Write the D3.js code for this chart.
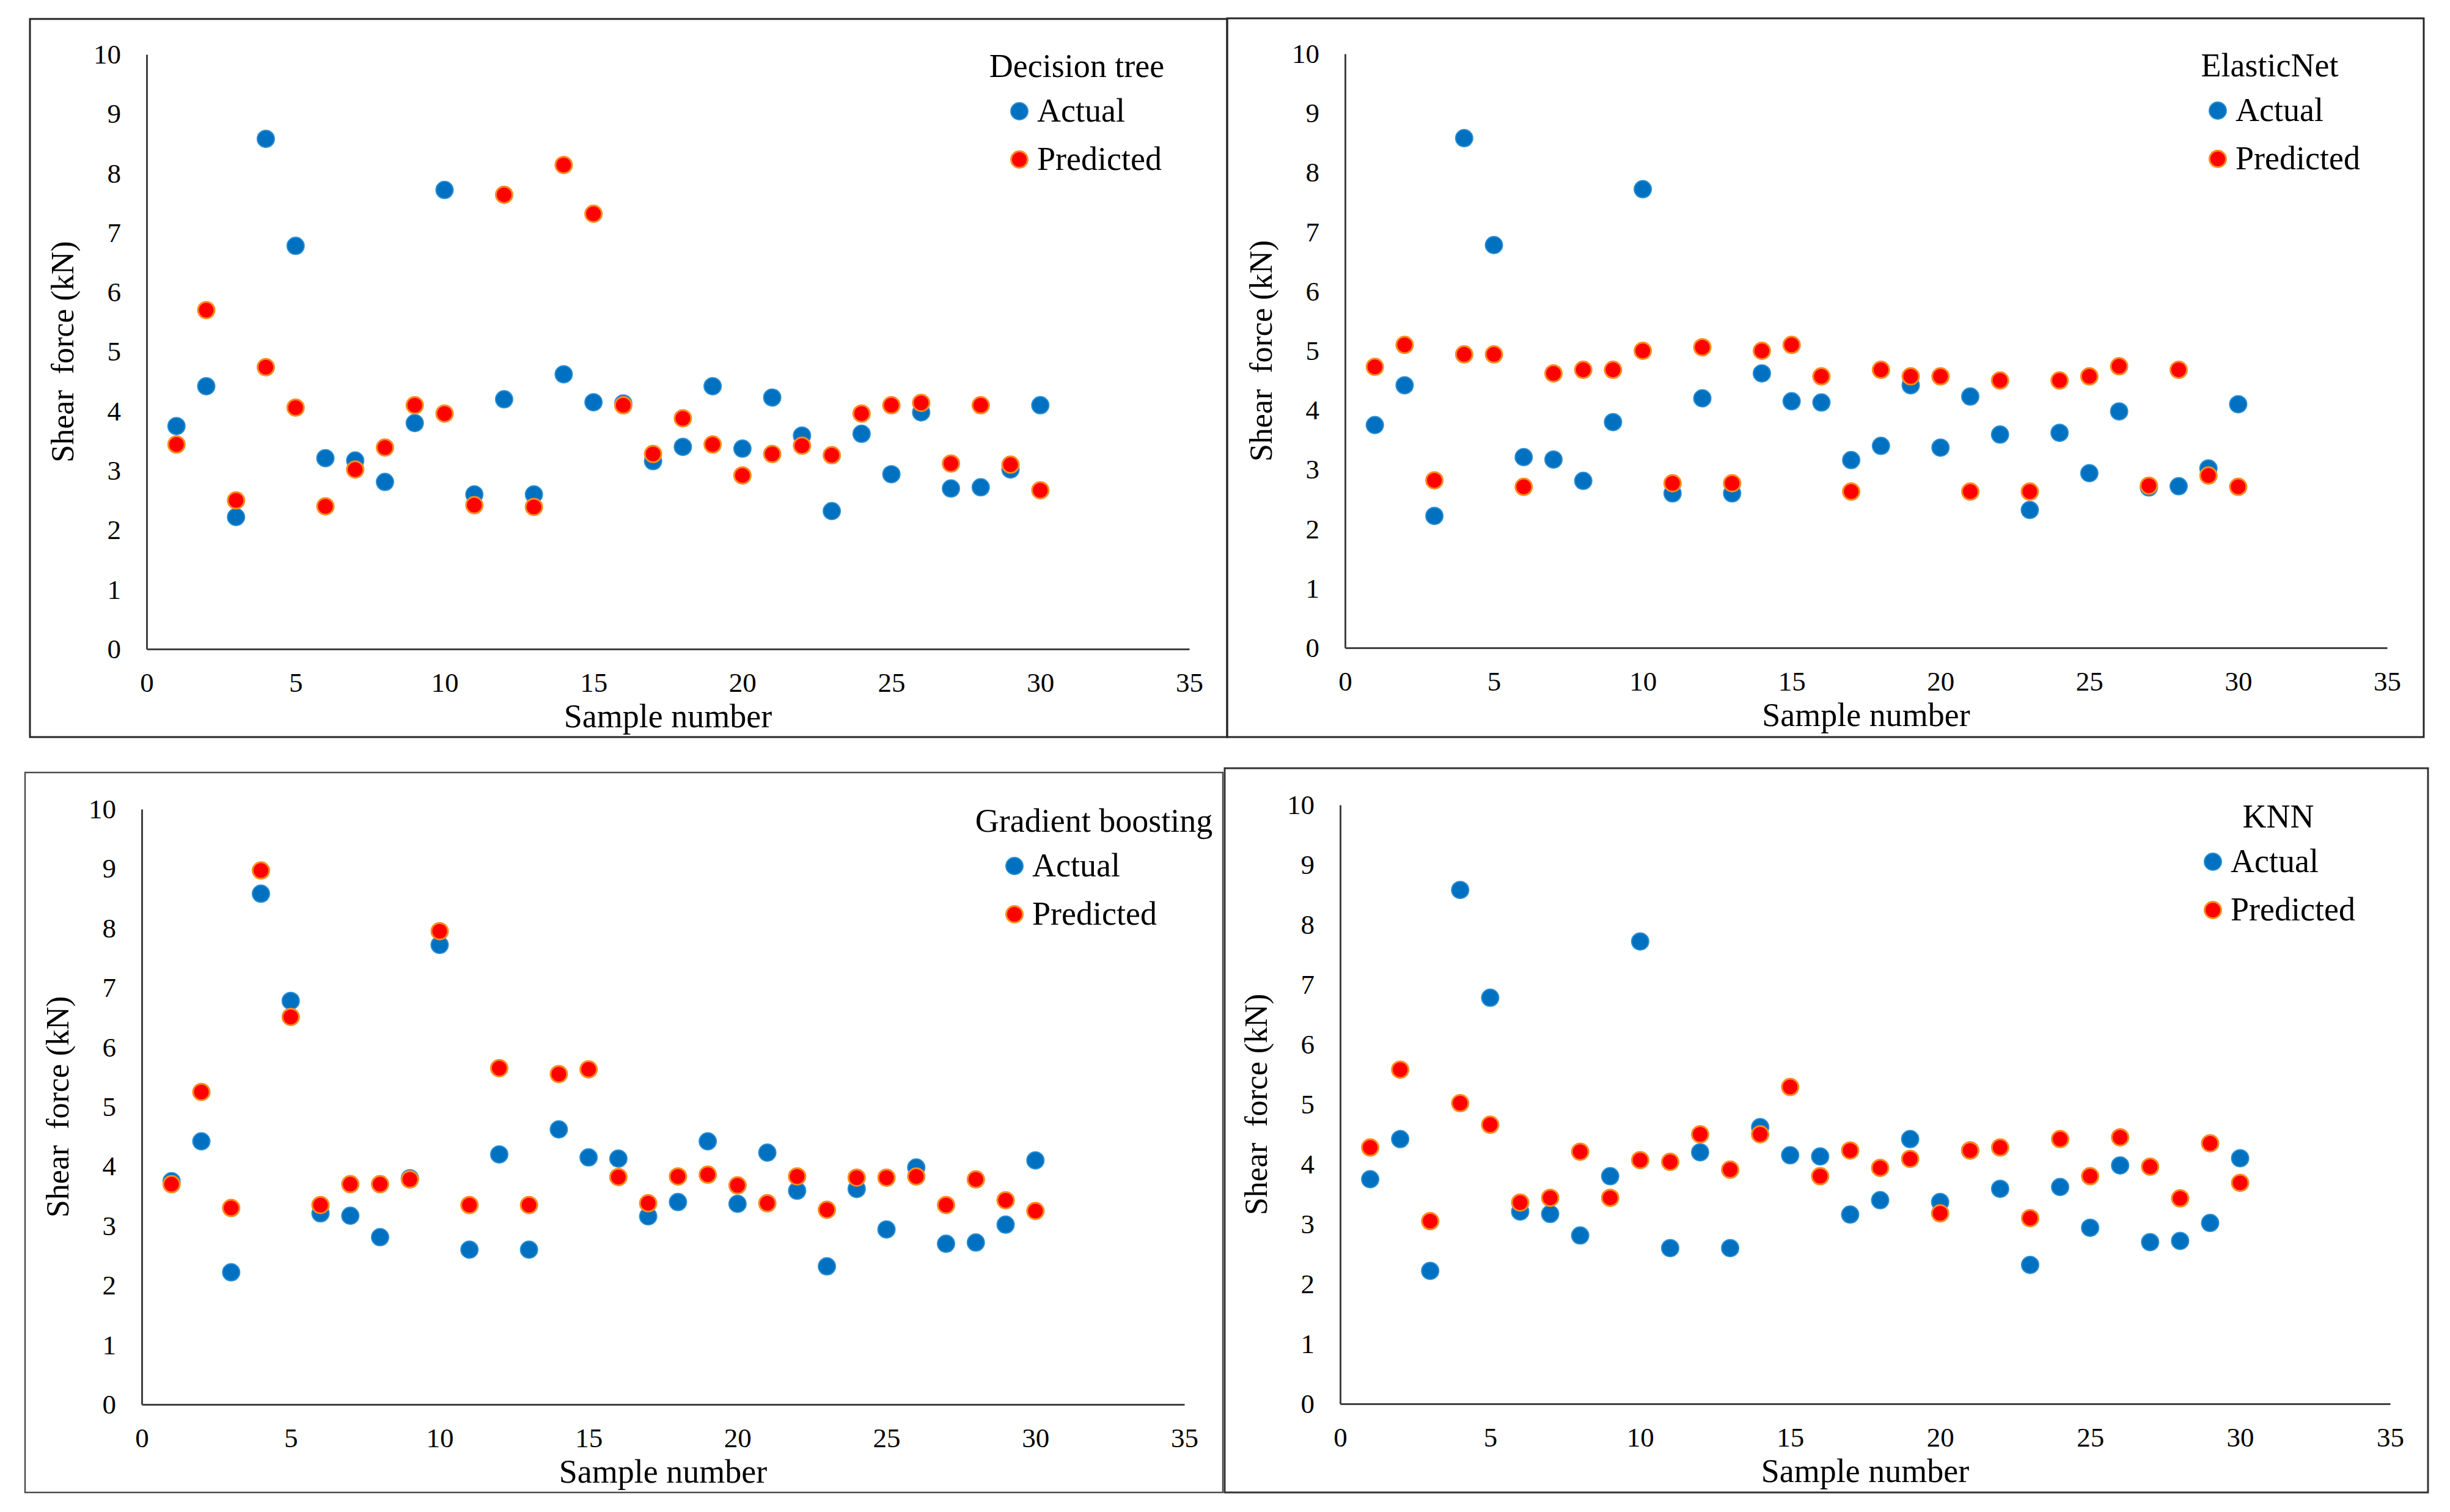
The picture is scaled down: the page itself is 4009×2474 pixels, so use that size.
<!DOCTYPE html>
<html>
<head>
<meta charset="utf-8">
<script src="https://cdn.jsdelivr.net/npm/d3@7"></script>
<style>
  html, body { margin: 0; padding: 0; background: #fff; }
  svg text { font-family: "Liberation Serif", "DejaVu Serif", serif; fill: #000; }
</style>
</head>
<body>
<svg id="chart" width="4009" height="2474" font-family="Liberation Serif, serif"></svg>
<script>
var FONT = '"Liberation Serif", "DejaVu Serif", serif';

// sample numbers 1..30
var sampleNo = [1, 2, 3, 4, 5, 6, 7, 8, 9, 10, 11, 12, 13, 14, 15,
    16, 17, 18, 19, 20, 21, 22, 23, 24, 25, 26, 27, 28, 29, 30];

// measured shear force, same in all four panels
var actual = [3.75, 4.42, 2.22, 8.58, 6.78, 3.21, 3.17, 2.81, 3.80, 7.72,
    2.60, 4.20, 2.60, 4.62, 4.15, 4.13, 3.16, 3.40, 4.42, 3.37,
    4.23, 3.59, 2.32, 3.62, 2.94, 3.98, 2.70, 2.72, 3.02, 4.10];

// predicted values
var dtPred = [3.44, 5.70, 2.50, 4.74, 4.06, 2.40, 3.02, 3.39, 4.10, 3.96,
    2.42, 7.64, 2.39, 8.14, 7.32, 4.10, 3.28, 3.88, 3.44, 2.92,
    3.28, 3.42, 3.26, 3.96, 4.10, 4.14, 3.12, 4.10, 3.10, 2.67];
var enPred = [4.73, 5.10, 2.82, 4.94, 4.94, 2.71, 4.62, 4.68, 4.68, 5.00,
    2.77, 5.06, 2.77, 5.00, 5.10, 4.57, 2.63, 4.68, 4.57, 4.57,
    2.63, 4.50, 2.63, 4.50, 4.57, 4.74, 2.73, 4.68, 2.90, 2.71];
var gbPred = [3.70, 5.25, 3.30, 8.97, 6.51, 3.35, 3.70, 3.70, 3.78, 7.95,
    3.35, 5.65, 3.35, 5.55, 5.63, 3.82, 3.38, 3.83, 3.86, 3.68,
    3.38, 3.83, 3.27, 3.81, 3.81, 3.83, 3.35, 3.78, 3.43, 3.25];
var knnPred = [4.28, 5.58, 3.05, 5.02, 4.66, 3.36, 3.44, 4.21, 3.44, 4.07,
    4.04, 4.50, 3.91, 4.50, 5.29, 3.80, 4.23, 3.94, 4.09, 3.18,
    4.23, 4.28, 3.10, 4.42, 3.80, 4.45, 3.96, 3.43, 4.35, 3.69];

var modelNames = ['Decision tree', 'ElasticNet', 'Gradient boosting', 'KNN'];
var predictions = [dtPred, enPred, gbPred, knnPred];
var seriesNames = ['Actual', 'Predicted'];

var xTicks = [0, 5, 10, 15, 20, 25, 30, 35];
var yTicks = [0, 1, 2, 3, 4, 5, 6, 7, 8, 9, 10];

// layout of the four panels (frame, plot area, legend title centre)
var layout = [
    {frame: [49, 31, 2008, 1206], plot: [240, 89, 1946, 1062], titleX: 1762, stroke: '#262626', sw: 3},
    {frame: [2008, 30, 3966, 1206], plot: [2201, 88, 3906, 1060], titleX: 3714, stroke: '#262626', sw: 3},
    {frame: [41, 1264, 2001, 2442], plot: [232, 1324, 1938, 2298], titleX: 1790, stroke: '#4d4d4d', sw: 2.5},
    {frame: [2004, 1257, 3973, 2442], plot: [2193, 1317, 3911, 2297], titleX: 3728, stroke: '#333333', sw: 3}
];

var marker = {
    Actual: {fill: '#0070c0', stroke: '#2b8fd3', r: 14, sw: 2},
    Predicted: {fill: '#ff0000', stroke: '#ff8a1e', r: 13.5, sw: 3}
};

var svg = d3.select('#chart');
svg.append('rect').attr('width', 4009).attr('height', 2474).attr('fill', '#fff');

function label(sel, size) {
    return sel.attr('font-family', FONT).style('font-family', FONT)
        .style('font-size', size + 'px').attr('fill', '#000');
}

modelNames.forEach(function (name, i) {
    var L = layout[i];
    var g = svg.append('g');

    //panel frame
    g.append('rect')
        .attr('x', L.frame[0]).attr('y', L.frame[1])
        .attr('width', L.frame[2] - L.frame[0])
        .attr('height', L.frame[3] - L.frame[1])
        .attr('fill', 'none')
        .attr('stroke', L.stroke)
        .attr('stroke-width', L.sw);

    var x = d3.scaleLinear().domain([0, 35]).range([L.plot[0], L.plot[2]]);
    var y = d3.scaleLinear().domain([0, 10]).range([L.plot[3], L.plot[1]]);

    //axes: plain lines, no tick marks
    var xAxis = g.append('g')
        .attr('transform', 'translate(0,' + L.plot[3] + ')')
        .call(d3.axisBottom(x).tickValues(xTicks).tickSize(0).tickPadding(38));
    var yAxis = g.append('g')
        .attr('transform', 'translate(' + L.plot[0] + ',0)')
        .call(d3.axisLeft(y).tickValues(yTicks).tickSize(0).tickPadding(42));
    [xAxis, yAxis].forEach(function (a) {
        a.attr('font-family', FONT).attr('font-size', 45);
        a.select('.domain').attr('stroke', '#404040').attr('stroke-width', 3);
        label(a.selectAll('text'), 45);
    });

    //axis titles
    label(g.append('text'), 54)
        .attr('x', (L.plot[0] + L.plot[2]) / 2)
        .attr('y', L.plot[3] + 128)
        .attr('text-anchor', 'middle')
        .text('Sample number');
    label(g.append('text'), 52)
        .attr('transform', 'translate(' + (L.plot[0] - 138) + ',' + ((L.plot[1] + L.plot[3]) / 2) + ') rotate(-90)')
        .attr('text-anchor', 'middle')
        .attr('dy', '0.35em')
        .style('white-space', 'pre')
        .text('Shear  force (kN)');

    //points, actual first so predicted sits on top
    var series = [actual, predictions[i]];
    series.forEach(function (vals, s) {
        var m = marker[seriesNames[s]];
        g.append('g').selectAll('circle')
            .data(sampleNo)
            .enter().append('circle')
            .attr('cx', function (d) { return x(d); })
            .attr('cy', function (d, k) { return y(vals[k]); })
            .attr('r', m.r)
            .attr('fill', m.fill)
            .attr('stroke', m.stroke)
            .attr('stroke-width', m.sw);
    });

    //legend
    var lg = g.append('g');
    label(lg.append('text'), 54)
        .attr('x', L.titleX)
        .attr('y', L.plot[1] + 37)
        .attr('text-anchor', 'middle')
        .text(name);
    seriesNames.forEach(function (s, k) {
        var m = marker[s];
        var cy = L.plot[1] + 93 + k * 79;
        var cx = L.plot[0] + 1428;
        lg.append('circle')
            .attr('cx', cx).attr('cy', cy).attr('r', m.r)
            .attr('fill', m.fill).attr('stroke', m.stroke).attr('stroke-width', m.sw);
        label(lg.append('text'), 54)
            .attr('x', cx + 29)
            .attr('y', cy + 17)
            .text(s);
    });
});
</script>
</body>
</html>
